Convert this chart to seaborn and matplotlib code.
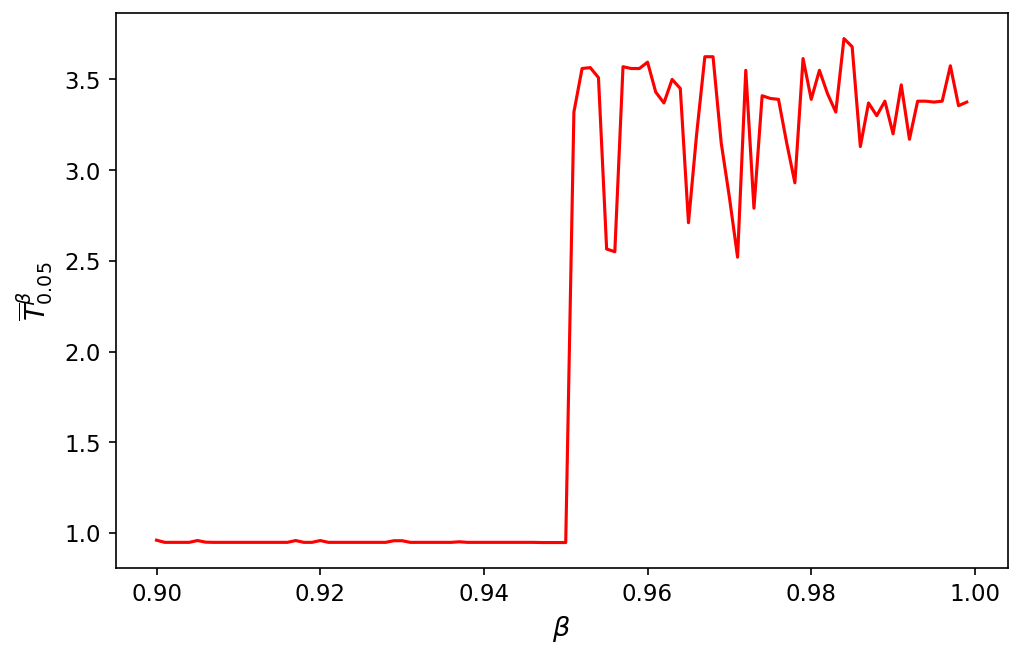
import numpy as np
import pandas as pd
import matplotlib
matplotlib.use("Agg")
import matplotlib.pyplot as plt
import seaborn as sns

# beta grid 0.900 .. 0.999
beta = np.round(np.arange(900, 1000) / 1000, 3)

low_values = [
    0.960, 0.948, 0.948, 0.948, 0.948, 0.958, 0.949, 0.948, 0.948, 0.948,
    0.948, 0.948, 0.948, 0.948, 0.948, 0.948, 0.948, 0.958, 0.948, 0.948,
    0.958, 0.948, 0.948, 0.948, 0.948, 0.948, 0.948, 0.948, 0.948, 0.957,
    0.957, 0.948, 0.948, 0.948, 0.948, 0.948, 0.948, 0.951, 0.948, 0.948,
    0.948, 0.948, 0.948, 0.948, 0.948, 0.948, 0.948, 0.947, 0.947, 0.947,
]
high_values = [
    0.947, 3.32, 3.56, 3.565, 3.51, 2.565, 2.55, 3.57, 3.56, 3.56,
    3.595, 3.43, 3.37, 3.50, 3.45, 2.71, 3.20, 3.625, 3.625, 3.15,
    2.85, 2.52, 3.55, 2.79, 3.41, 3.395, 3.39, 3.15, 2.93, 3.615,
    3.39, 3.55, 3.42, 3.32, 3.725, 3.68, 3.13, 3.37, 3.30, 3.38,
    3.20, 3.47, 3.17, 3.38, 3.38, 3.375, 3.38, 3.575, 3.355, 3.375,
]
t_bar = low_values + high_values

df = pd.DataFrame({"beta": beta, "T": t_bar})

fig, ax = plt.subplots(figsize=(6.82, 4.41), dpi=150)
sns.lineplot(data=df, x="beta", y="T", color="red", linewidth=1.5, ax=ax)
ax.set_xlabel(r"$\beta$", fontsize=13)
ax.set_ylabel(r"$\overline{T}^{\beta}_{0.05}$", fontsize=13)
ax.set_xticks([0.90, 0.92, 0.94, 0.96, 0.98, 1.00])
ax.set_xticklabels(["0.90", "0.92", "0.94", "0.96", "0.98", "1.00"])
ax.set_yticks([1.0, 1.5, 2.0, 2.5, 3.0, 3.5])
ax.tick_params(labelsize=11)
ax.set_xlim(0.895, 1.004)
fig.subplots_adjust(left=0.113, right=0.985, top=0.979, bottom=0.141)
fig.savefig("out.png", dpi=150)
